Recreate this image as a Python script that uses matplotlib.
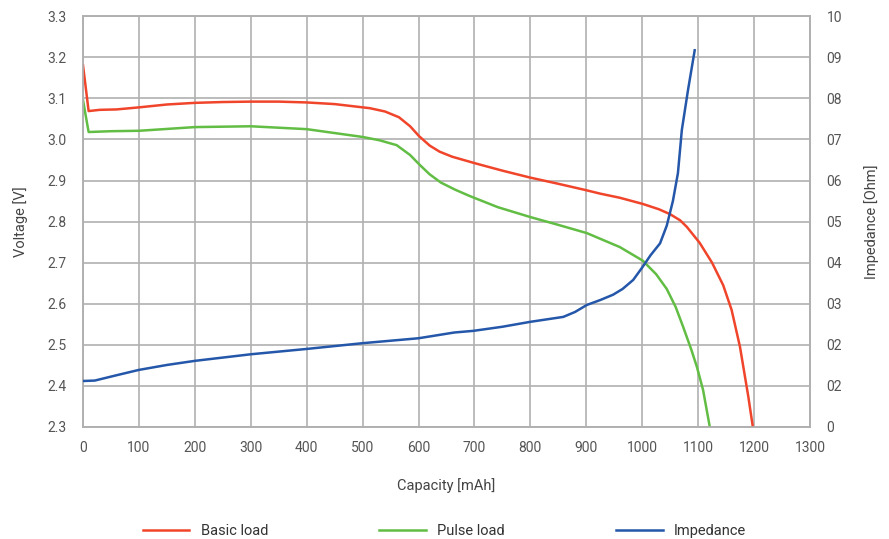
import matplotlib.pyplot as plt
import numpy as np

# Basic load (voltage, left axis)
basic_cap = [0, 10, 30, 60, 100, 150, 200, 250, 300, 350, 400, 450, 513, 540, 565, 585, 601,
             620, 638, 660, 701, 750, 800, 850, 898, 925, 960, 1001, 1030, 1050, 1068, 1080,
             1103, 1125, 1145, 1160, 1175, 1190, 1198]
basic_v = [3.18, 3.069, 3.072, 3.073, 3.078, 3.085, 3.089, 3.091, 3.092, 3.092, 3.090, 3.086,
           3.076, 3.068, 3.054, 3.032, 3.008, 2.985, 2.970, 2.958, 2.942, 2.924, 2.907, 2.892,
           2.877, 2.868, 2.858, 2.843, 2.830, 2.818, 2.803, 2.787, 2.748, 2.70, 2.645, 2.585,
           2.495, 2.373, 2.30]

# Pulse load (voltage, left axis)
pulse_cap = [0, 10, 50, 100, 200, 300, 400, 500, 530, 561, 585, 603, 620, 640, 665, 692, 742,
             800, 850, 901, 960, 1001, 1025, 1044, 1060, 1073, 1088, 1098, 1109, 1121]
pulse_v = [3.095, 3.018, 3.020, 3.021, 3.030, 3.032, 3.025, 3.006, 2.998, 2.986, 2.962, 2.937,
           2.915, 2.895, 2.878, 2.862, 2.835, 2.811, 2.792, 2.772, 2.738, 2.705, 2.672, 2.636,
           2.592, 2.545, 2.488, 2.446, 2.39, 2.30]

# Impedance (right axis)
imp_cap = [0, 21, 60, 100, 150, 200, 300, 400, 500, 600, 664, 698, 750, 800, 859, 880, 901,
           925, 948, 965, 984, 1000, 1015, 1032, 1044, 1055, 1064, 1071, 1082, 1094]
imp_val = [0.112, 0.113, 0.126, 0.139, 0.151, 0.161, 0.177, 0.190, 0.204, 0.216, 0.230,
           0.234, 0.244, 0.256, 0.268, 0.280, 0.297, 0.309, 0.322, 0.336, 0.358, 0.388, 0.418,
           0.447, 0.490, 0.550, 0.618, 0.723, 0.82, 0.917]

x_ticks = list(range(0, 1400, 100))
v_ticks = [2.3, 2.4, 2.5, 2.6, 2.7, 2.8, 2.9, 3.0, 3.1, 3.2, 3.3]
r_ticks = [0, 0.1, 0.2, 0.3, 0.4, 0.5, 0.6, 0.7, 0.8, 0.9, 1.0]
r_labels = ['0', '02', '02', '03', '04', '05', '06', '07', '08', '09', '10']

RED = '#f0452b'
GREEN = '#62bd44'
BLUE = '#2457a9'
GRID = '#b0b0b0'
TXT = '#555555'

plt.rcParams['font.family'] = ['Roboto', 'DejaVu Sans']

fig = plt.figure(figsize=(8.89, 5.39), dpi=100)
ax = fig.add_axes([0.0934, 0.2078, 0.8176, 0.7622])
ax2 = ax.twinx()

l1, = ax.plot(basic_cap, basic_v, color=RED, lw=1.8, label='Basic load', zorder=3)
l2, = ax.plot(pulse_cap, pulse_v, color=GREEN, lw=1.8, label='Pulse load', zorder=3)
l3, = ax2.plot(imp_cap, imp_val, color=BLUE, lw=1.8, label='Impedance', zorder=3)

ax.set_xlim(0, 1300)
ax.set_ylim(2.3, 3.3)
ax2.set_ylim(0, 1.0)
ax.set_xticks(x_ticks)
ax.set_xticklabels([str(t) for t in x_ticks])
ax.set_yticks(v_ticks)
ax.set_yticklabels(['%.1f' % t for t in v_ticks])
ax2.set_yticks(r_ticks)
ax2.set_yticklabels(r_labels)

ax.grid(True, color=GRID, lw=1.2)
ax.set_axisbelow(True)
for a in (ax, ax2):
    for s in a.spines.values():
        s.set_color(GRID)
        s.set_linewidth(1.2)
    a.tick_params(length=0, labelsize=10, labelcolor=TXT)
ax.tick_params(axis='y', pad=12)
ax.tick_params(axis='x', pad=10)
ax2.tick_params(axis='y', pad=12)

ax.set_xlabel('Capacity [mAh]', fontsize=10.5, color='#444444', labelpad=17)
ax.set_ylabel('Voltage [V]', fontsize=10.5, color='#444444', labelpad=14)
ax2.set_ylabel('Impedance [Ohm]', fontsize=10.5, color='#444444', labelpad=16)

fig.legend(handles=[l1, l2, l3], loc='lower center', bbox_to_anchor=(0.5, -0.022), ncol=3,
           frameon=False, fontsize=10.5, handlelength=3.2, columnspacing=7.6,
           labelcolor='#333333')

fig.savefig('out.png', dpi=100)
